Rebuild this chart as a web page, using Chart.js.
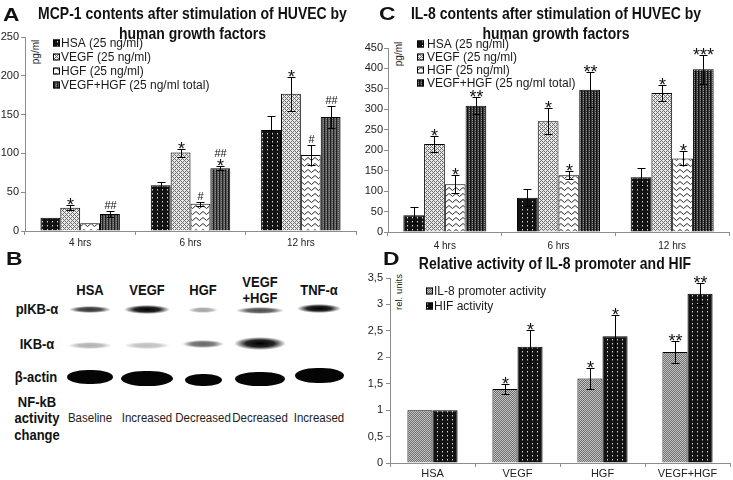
<!DOCTYPE html>
<html>
<head>
<meta charset="utf-8">
<script src="https://cdn.jsdelivr.net/npm/chart.js@4.4.0/dist/chart.umd.min.js"></script>
<style>
  body { margin: 0; width: 733px; height: 480px; background: #fff; position: relative; overflow: hidden;
         font-family: "Liberation Sans", Arial, sans-serif; color: #111; }
  .panel { position: absolute; }
  .title { position: absolute; text-align: center; font-weight: bold; font-size: 14px; line-height: 16.5px; color: #111;
           transform: scaleY(1.15); transform-origin: center top; }
  .letter { position: absolute; font-weight: bold; font-size: 19px; line-height: 19px; transform: scaleX(1.2); transform-origin: left top; }
  .ylab { position: absolute; font-size: 10px; color: #222; transform: translate(-50%, -50%) rotate(-90deg); white-space: nowrap; }
  .band { position: absolute; }
  .hdr { position: absolute; font-weight: bold; font-size: 13px; line-height: 15px; text-align: center; transform: translateX(-50%) scaleY(1.1); }
  .state { position: absolute; font-size: 11.5px; transform: translate(-50%, -50%) scaleY(1.1); white-space: nowrap; color: #222; }
</style>
</head>
<body>
<div class="letter" style="left:3px;top:5px">A</div>
<div class="title" style="left:0px;top:4px;width:385px">MCP-1 contents after stimulation of HUVEC by<br>human growth factors</div>
<div class="letter" style="left:379px;top:4px">C</div>
<div class="title" style="left:376px;top:4px;width:360px">IL-8 contents after stimulation of HUVEC by<br>human growth factors</div>
<div class="letter" style="left:6px;top:249px">B</div>
<div class="letter" style="left:383px;top:249px">D</div>
<div class="title" style="left:375px;top:254px;width:360px">Relative activity of IL-8 promoter and HIF</div>
<div class="ylab" style="left:35px;top:52px">pg/ml</div>
<div class="ylab" style="left:398px;top:54px">pg/ml</div>
<div class="ylab" style="left:398px;top:292px;font-size:9.5px">rel. units</div>

<div class="panel" style="left:0;top:0;width:365px;height:255px"><canvas id="mcp-chart"></canvas></div>
<div class="panel" style="left:365px;top:0;width:368px;height:255px"><canvas id="il8-chart"></canvas></div>
<div class="panel" style="left:365px;top:250px;width:368px;height:230px"><canvas id="act-chart"></canvas></div>
<div id="blot"></div>

<script>
// ---- donnees ----
const timeLabels = ['4 hrs', '6 hrs', '12 hrs'];
const seriesNames = ['HSA (25 ng/ml)', 'VEGF (25 ng/ml)', 'HGF (25 ng/ml)', 'VEGF+HGF (25 ng/ml total)'];

// MCP-1 (pg/ml)
const mcpHsa = [17, 59, 130];
const mcpVegf = [30, 101, 177];
const mcpHgf = [10, 35, 98];
const mcpVegfHgf = [22, 81, 147];
const mcpHsaErr = [0, 4, 18];
const mcpVegfErr = [3, 5, 22];
const mcpHgfErr = [0, 3, 13];
const mcpVegfHgfErr = [4, 3, 14];
const mcpHsaMarks = ['', '', ''];
const mcpVegfMarks = ['*', '*', '*'];
const mcpHgfMarks = ['', '#', '#'];
const mcpVegfHgfMarks = ['##', '## *', '##'];

// IL-8 (pg/ml)
const il8Hsa = [41, 84, 134];
const il8Vegf = [215, 271, 340];
const il8Hgf = [117, 139, 180];
const il8VegfHgf = [309, 348, 398];
const il8HsaErr = [20, 20, 22];
const il8VegfErr = [20, 32, 19];
const il8HgfErr = [22, 9, 17];
const il8VegfHgfErr = [20, 43, 35];
const il8HsaMarks = ['', '', ''];
const il8VegfMarks = ['*', '*', '*'];
const il8HgfMarks = ['*', '*', '*'];
const il8VegfHgfMarks = ['**', '**', '***'];

// activite relative
const treatLabels = ['HSA', 'VEGF', 'HGF', 'VEGF+HGF'];
const promoterAct = [1, 1.4, 1.6, 2.1];
const promoterErr = [0, 0.1, 0.2, 0.2];
const promoterMarks = ['', '*', '*', '**'];
const hifAct = [1, 2.2, 2.4, 3.2];
const hifErr = [0, 0.32, 0.4, 0.2];
const hifMarks = ['', '*', '*', '**'];

// western blot
const blotLanes = ['HSA', 'VEGF', 'HGF', 'VEGF<br>+HGF', 'TNF-α'];
const pikbLevels = [0.8, 1, 0.35, 0.7, 1];
const ikbLevels = [0.3, 0.25, 0.6, 1, 0];
const actinLevels = [1, 1, 1, 1, 1];
const nfkbChange = ['Baseline', 'Increased', 'Decreased', 'Decreased', 'Increased'];

const FONT = '"Liberation Sans", Arial, sans-serif';
Chart.defaults.font.family = FONT;
Chart.defaults.color = '#222';

// ---- motifs de remplissage ----
function makePattern(w, h, draw) {
    const c = document.createElement('canvas');
    c.width = w; c.height = h;
    const g = c.getContext('2d');
    draw(g);
    return g.createPattern(c, 'repeat');
}

const dottedBlack = makePattern(5, 4, g => {
    g.fillStyle = '#121212'; g.fillRect(0, 0, 5, 4);
    g.fillStyle = '#d8d8d8'; g.fillRect(2, 1, 1, 1);
    g.fillStyle = '#707070'; g.fillRect(2, 2, 1, 1);
});
const crossGray = makePattern(4, 4, g => {
    g.fillStyle = '#ebebeb'; g.fillRect(0, 0, 4, 4);
    g.fillStyle = '#6a6a6a';
    [[0,0],[1,1],[2,2],[3,3],[3,1],[1,3]].forEach(p => g.fillRect(p[0], p[1], 1, 1));
});
const waveWhite = makePattern(7, 6, g => {
    g.fillStyle = '#fff'; g.fillRect(0, 0, 7, 6);
    g.strokeStyle = '#2a2a2a'; g.lineWidth = 1;
    g.beginPath(); g.moveTo(0, 1.5); g.lineTo(3.5, 4.5); g.lineTo(7, 1.5); g.stroke();
});
const stripeDarkA = makePattern(3, 2, g => {
    g.fillStyle = '#5a5a5a'; g.fillRect(0, 0, 3, 2);
    g.fillStyle = '#1e1e1e'; g.fillRect(0, 0, 1, 2);
    g.fillStyle = '#8a8a8a'; g.fillRect(2, 0, 1, 1);
});
const stripeDarkC = makePattern(3, 2, g => {
    g.fillStyle = '#3a3a3a'; g.fillRect(0, 0, 3, 2);
    g.fillStyle = '#101010'; g.fillRect(0, 0, 1, 2);
    g.fillStyle = '#909090'; g.fillRect(2, 0, 1, 1);
});
const checkGray = makePattern(2, 2, g => {
    g.fillStyle = '#c4c4c4'; g.fillRect(0, 0, 2, 2);
    g.fillStyle = '#6e6e6e'; g.fillRect(0, 0, 1, 1); g.fillRect(1, 1, 1, 1);
});

// ---- barres d'erreur et etoiles ----
const errorBarPlugin = {
    id: 'errorBars',
    afterDatasetsDraw(chart) {
        const ctx = chart.ctx;
        const yScale = chart.scales.y;
        ctx.save();
        chart.data.datasets.forEach((ds, di) => {
            const meta = chart.getDatasetMeta(di);
            meta.data.forEach((bar, i) => {
                const v = ds.data[i];
                const e = ds.errors[i];
                const x = Math.round(bar.x) + 0.5;
                let top = yScale.getPixelForValue(v);
                if (e > 0) {
                    const hi = Math.round(yScale.getPixelForValue(v + e)) + 0.5;
                    const lo = Math.round(yScale.getPixelForValue(v - e)) + 0.5;
                    ctx.strokeStyle = '#000';
                    ctx.lineWidth = 1;
                    ctx.beginPath();
                    ctx.moveTo(x, hi); ctx.lineTo(x, lo);
                    ctx.moveTo(x - 4, hi); ctx.lineTo(x + 4, hi);
                    ctx.moveTo(x - 4, lo); ctx.lineTo(x + 4, lo);
                    ctx.stroke();
                    top = hi;
                }
                const mark = ds.marks[i];
                if (!mark) return;
                let y = top - 3;
                ctx.fillStyle = '#111';
                ctx.textAlign = 'center';
                ctx.textBaseline = 'alphabetic';
                mark.split(' ').reverse().forEach(m => {
                    if (m.includes('*')) {
                        ctx.font = '18px ' + FONT;
                        ctx.fillText(m, x, y + 8);
                        y -= 7;
                    } else {
                        ctx.font = '11px ' + FONT;
                        ctx.fillText(m, x, y);
                        y -= 10;
                    }
                });
            });
        });
        ctx.restore();
    }
};

// legende dans la zone du graphique
const boxLegendPlugin = {
    id: 'boxLegend',
    afterDraw(chart, args, opts) {
        const ctx = chart.ctx;
        ctx.save();
        ctx.font = opts.fontSize + 'px ' + FONT;
        ctx.textBaseline = 'middle';
        ctx.textAlign = 'left';
        chart.data.datasets.forEach((ds, i) => {
            const y = Math.round(opts.y + i * opts.step);
            ctx.fillStyle = ds.backgroundColor;
            ctx.fillRect(opts.x, y - opts.size / 2, opts.size, opts.size);
            ctx.strokeStyle = '#000';
            ctx.lineWidth = 1;
            ctx.strokeRect(opts.x + 0.5, y - opts.size / 2 + 0.5, opts.size - 1, opts.size - 1);
            ctx.fillStyle = '#1a1a1a';
            ctx.fillText(ds.label, opts.x + opts.size + opts.gap, y + 0.5);
        });
        ctx.restore();
    }
};

function barDataset(label, data, errors, marks, fill) {
    return {
        label: label,
        data: data,
        errors: errors,
        marks: marks,
        backgroundColor: fill,
        borderColor: '#000',
        borderWidth: 1,
        barPercentage: 1
    };
}

function scalesFor(cfg) {
    return {
        x: {
            grid: { drawOnChartArea: false, drawTicks: true, tickLength: 4, color: '#8c8c8c', offset: true },
            border: { display: true, color: '#8c8c8c' },
            ticks: { color: '#222', font: { size: cfg.xFont }, padding: cfg.xPad, maxRotation: 0 },
            afterFit(s) { s.height = cfg.xHeight; }
        },
        y: {
            min: 0,
            max: cfg.max,
            grid: { drawOnChartArea: false, drawTicks: true, tickLength: 4, color: '#8c8c8c' },
            border: { display: true, color: '#8c8c8c' },
            ticks: { stepSize: cfg.step, color: '#222', font: { size: 11 }, padding: cfg.yPad,
                     callback: v => String(v).replace('.', ',') },
            afterFit(s) { s.width = cfg.yWidth; }
        }
    };
}

function baseOptions(cfg) {
    return {
        responsive: true,
        maintainAspectRatio: false,
        animation: false,
        events: [],
        layout: { padding: cfg.padding },
        plugins: {
            legend: { display: false },
            tooltip: { enabled: false },
            boxLegend: cfg.legend
        },
        scales: scalesFor(cfg)
    };
}

// Graphique MCP-1
new Chart(document.getElementById('mcp-chart'), {
    type: 'bar',
    data: {
        labels: timeLabels,
        datasets: [
            barDataset(seriesNames[0], mcpHsa, mcpHsaErr, mcpHsaMarks, dottedBlack),
            barDataset(seriesNames[1], mcpVegf, mcpVegfErr, mcpVegfMarks, crossGray),
            barDataset(seriesNames[2], mcpHgf, mcpHgfErr, mcpHgfMarks, waveWhite),
            barDataset(seriesNames[3], mcpVegfHgf, mcpVegfHgfErr, mcpVegfHgfMarks, stripeDarkA)
        ].map(d => Object.assign(d, { categoryPercentage: 0.72 }))
    },
    options: baseOptions({
        padding: { left: 0, top: 37, right: 9, bottom: 0 },
        max: 250, step: 50, yWidth: 25, xHeight: 24, xFont: 10, xPad: 2, yPad: 2,
        legend: { x: 53, y: 43, step: 14.1, size: 7, gap: 1, fontSize: 12 }
    }),
    plugins: [errorBarPlugin, boxLegendPlugin]
});

// Graphique IL-8
new Chart(document.getElementById('il8-chart'), {
    type: 'bar',
    data: {
        labels: timeLabels,
        datasets: [
            barDataset(seriesNames[0], il8Hsa, il8HsaErr, il8HsaMarks, dottedBlack),
            barDataset(seriesNames[1], il8Vegf, il8VegfErr, il8VegfMarks, crossGray),
            barDataset(seriesNames[2], il8Hgf, il8HgfErr, il8HgfMarks, waveWhite),
            barDataset(seriesNames[3], il8VegfHgf, il8VegfHgfErr, il8VegfHgfMarks, stripeDarkC)
        ].map(d => Object.assign(d, { categoryPercentage: 0.73 }))
    },
    options: baseOptions({
        padding: { left: 0, top: 48, right: 4, bottom: 0 },
        max: 450, step: 50, yWidth: 23, xHeight: 23, xFont: 10, xPad: 4, yPad: 1,
        legend: { x: 52, y: 43.5, step: 13, size: 7, gap: 3, fontSize: 12 }
    }),
    plugins: [errorBarPlugin, boxLegendPlugin]
});

// Graphique activite relative
new Chart(document.getElementById('act-chart'), {
    type: 'bar',
    data: {
        labels: treatLabels,
        datasets: [
            barDataset('IL-8 promoter activity', promoterAct, promoterErr, promoterMarks, checkGray),
            barDataset('HIF activity', hifAct, hifErr, hifMarks, dottedBlack)
        ].map(d => Object.assign(d, { categoryPercentage: 0.59 }))
    },
    options: baseOptions({
        padding: { left: 0, top: 28, right: 3, bottom: 0 },
        max: 3.5, step: 0.5, yWidth: 25, xHeight: 17, xFont: 11, xPad: 0, yPad: 3,
        legend: { x: 61, y: 41, step: 15, size: 7, gap: 1, fontSize: 12 }
    }),
    plugins: [errorBarPlugin, boxLegendPlugin]
});

// ---- panneau B : western blot ----
const blot = document.getElementById('blot');
function addText(cls, html, x, y) {
    const d = document.createElement('div');
    d.className = cls;
    d.innerHTML = html;
    d.style.left = x + 'px';
    d.style.top = y + 'px';
    blot.appendChild(d);
}
function addBand(cx, cy, w, h, level, solid) {
    if (level <= 0) return;
    const d = document.createElement('div');
    d.className = 'band';
    Object.assign(d.style, {
        left: (cx - w / 2) + 'px', top: (cy - h / 2) + 'px',
        width: w + 'px', height: h + 'px'
    });
    if (solid) {
        d.style.background = '#050505';
        d.style.borderRadius = '45% / 50%';
        d.style.filter = 'blur(0.7px)';
    } else {
        const a = level.toFixed(2), b = (level * 0.85).toFixed(2);
        d.style.background = `radial-gradient(closest-side, rgba(0,0,0,${a}) 0%, rgba(0,0,0,${b}) 55%, rgba(0,0,0,0) 100%)`;
        d.style.filter = 'blur(0.5px)';
    }
    blot.appendChild(d);
}

const laneX = [90, 147, 203, 260, 319];
blotLanes.forEach((name, i) => {
    const two = name.includes('<br>');
    addText('hdr', name, laneX[i], two ? 275 : 283);
});
addText('hdr', 'pIKB-α', 37, 302);
addText('hdr', 'IKB-α', 37, 337);
addText('hdr', 'β-actin', 36, 370);
addText('hdr', 'NF-kB<br>activity<br>change', 37, 396);
nfkbChange.forEach((s, i) => addText('state', s, laneX[i], 418));

const pikbGeom = { cy: [309, 309, 310, 310, 308], w: [42, 46, 30, 48, 44], h: [7, 9, 6, 7, 9] };
const ikbGeom = { cy: [345, 345, 344, 343, 345], w: [44, 46, 42, 52, 40], h: [7, 7, 8, 13, 6] };
const actinGeom = { cy: [377, 378, 380, 379, 375], w: [46, 52, 37, 50, 49], h: [14, 15, 12, 14, 15] };
laneX.forEach((x, i) => {
    addBand(x, pikbGeom.cy[i], pikbGeom.w[i], pikbGeom.h[i], pikbLevels[i], false);
    addBand(x, ikbGeom.cy[i], ikbGeom.w[i], ikbGeom.h[i], ikbLevels[i], false);
    addBand(x, actinGeom.cy[i], actinGeom.w[i], actinGeom.h[i], actinLevels[i], true);
});
</script>
</body>
</html>
